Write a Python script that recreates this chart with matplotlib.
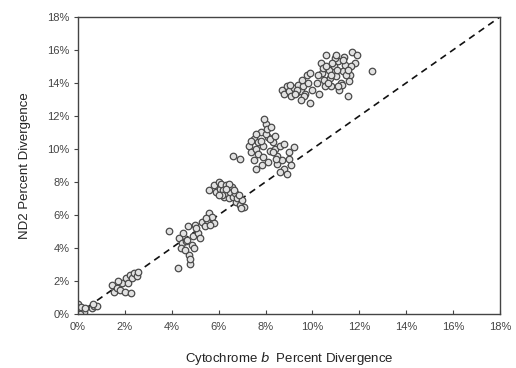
import numpy as np
import matplotlib
matplotlib.use('Agg')
import matplotlib.pyplot as plt
from matplotlib.ticker import FuncFormatter

plt.rcParams['font.family'] = ['Liberation Sans', 'DejaVu Sans']

# percent divergence, read off the picture cluster by cluster
# near the origin
cyt_a = [0.0, 0.05, 0.15, 0.25, 0.1, 0.3, 0.6, 0.7, 0.8, 0.65]
nd2_a = [0.6, 0.2, 0.4, 0.1, 0.0, 0.35, 0.35, 0.5, 0.45, 0.6]
# around 2%
cyt_b = [1.45, 1.55, 1.65, 1.8, 1.9, 2.0, 2.05, 2.15, 2.2, 2.3, 2.4, 2.5, 2.55, 1.7, 2.25]
nd2_b = [1.75, 1.3, 1.55, 1.45, 1.9, 1.35, 2.2, 1.85, 2.35, 2.15, 2.45, 2.3, 2.55, 2.0, 1.25]
# 4-6%
cyt_c = [3.9, 4.25, 4.8, 4.3, 4.45, 4.5, 4.6, 4.7, 4.75, 4.85, 4.9, 5.0, 5.1, 5.2,
         4.4, 4.55, 4.8, 4.95, 5.05, 4.65, 5.3, 5.4, 5.5, 5.6, 5.7, 5.8, 5.65, 5.45]
nd2_c = [5.0, 2.8, 3.0, 4.6, 4.3, 4.9, 4.4, 5.3, 3.6, 4.2, 4.7, 5.4, 4.9, 4.6,
         4.0, 3.9, 3.3, 4.0, 5.2, 4.5, 5.6, 5.3, 5.7, 6.1, 5.9, 5.5, 5.4, 5.8]
# 6-7%
cyt_d = [5.6, 5.8, 5.9, 6.0, 6.05, 6.1, 6.2, 6.25, 6.3, 6.35, 6.4, 6.45, 6.5, 6.55,
         6.6, 6.7, 6.75, 6.8, 6.9, 7.0, 7.1, 6.15, 6.45, 6.65, 6.85, 6.95, 6.0, 6.3]
nd2_d = [7.5, 7.8, 7.4, 8.0, 7.6, 7.9, 7.5, 7.1, 7.8, 7.3, 7.6, 7.0, 7.4, 7.7,
         7.1, 7.3, 6.8, 7.0, 6.6, 6.9, 6.5, 7.2, 7.9, 7.5, 7.2, 6.4, 7.2, 7.6]
# 7-9%
cyt_e = [6.6, 6.9, 7.3, 7.4, 7.5, 7.6, 7.7, 7.8, 7.9, 8.0, 8.1, 8.2, 8.3, 8.4, 8.5,
         7.5, 7.7, 7.9, 8.1, 8.3, 7.6, 7.8, 8.0, 8.2, 8.4, 8.6, 7.95, 8.05, 7.85, 8.5,
         8.7, 8.8, 9.0, 9.1, 8.6, 8.9, 7.6, 8.25, 8.45, 7.4, 9.0, 9.2, 8.8]
nd2_e = [9.6, 9.4, 10.2, 9.8, 10.6, 10.0, 10.4, 11.0, 10.2, 11.5, 10.7, 9.9, 10.4, 10.0, 9.6,
         9.3, 9.7, 9.5, 9.2, 9.8, 10.9, 10.5, 10.9, 10.6, 10.8, 10.2, 11.8, 11.2, 9.0, 9.1,
         9.3, 8.8, 9.4, 9.0, 8.6, 8.5, 8.8, 11.3, 9.4, 10.5, 9.8, 10.1, 10.3]
# 9-10%
cyt_f = [8.7, 8.8, 8.9, 9.0, 9.1, 9.2, 9.3, 9.4, 9.5, 9.6, 9.7, 9.8, 9.9, 10.0,
         9.05, 9.35, 9.55, 9.75, 9.25, 9.65, 9.9, 9.5]
nd2_f = [13.6, 13.3, 13.8, 13.5, 13.2, 13.7, 13.4, 13.9, 13.5, 13.8, 13.3, 14.0, 12.8, 13.6,
         13.9, 13.6, 14.2, 14.5, 13.3, 13.2, 14.6, 12.95]
# 10-12.5%
cyt_g = [10.2, 10.3, 10.4, 10.5, 10.6, 10.7, 10.8, 10.9, 11.0, 11.1, 11.2, 11.3, 11.4, 11.5,
         11.6, 11.7, 11.8, 11.9, 10.35, 10.55, 10.75, 10.95, 11.15, 11.35, 11.55, 10.45, 10.65,
         10.85, 11.05, 11.25, 11.45, 11.65, 10.6, 11.0, 11.3, 12.55, 10.25, 10.8, 11.1, 11.5]
nd2_g = [14.0, 13.3, 14.6, 14.2, 15.7, 14.8, 13.8, 15.0, 14.4, 15.3, 14.0, 14.7, 15.1, 13.2,
         14.5, 15.9, 15.2, 15.7, 15.2, 13.8, 14.3, 15.5, 13.6, 15.6, 14.1, 14.9, 14.0,
         15.2, 14.8, 13.9, 14.5, 15.0, 15.0, 15.7, 15.4, 14.7, 14.5, 14.5, 13.8, 14.8]

cyt = np.array(cyt_a + cyt_b + cyt_c + cyt_d + cyt_e + cyt_f + cyt_g)
nd2 = np.array(nd2_a + nd2_b + nd2_c + nd2_d + nd2_e + nd2_f + nd2_g)

ticks = list(range(0, 19, 2))

fig = plt.figure(figsize=(5.16, 3.68), dpi=100)
ax = fig.add_axes([0.151, 0.147, 0.818, 0.807])

# 1:1 line
ax.plot([0, 18], [0, 18], color='#111111', lw=1.2, dashes=(4, 3), zorder=1)
ax.scatter(cyt, nd2, s=22, facecolor='#e2e2e2', edgecolor='#4a4a4a', linewidth=0.9, zorder=2)

ax.set_xlim(0, 18)
ax.set_ylim(0, 18)
ax.set_xticks(ticks)
ax.set_yticks(ticks)
pct = FuncFormatter(lambda v, p: f"{v:.0f}%")
ax.xaxis.set_major_formatter(pct)
ax.yaxis.set_major_formatter(pct)
ax.tick_params(axis='x', direction='in', length=3, labelsize=8, colors='#444444', pad=6)
ax.tick_params(axis='y', direction='out', length=3, labelsize=8, colors='#444444', pad=3)
for s in ax.spines.values():
    s.set_color('#444444')
    s.set_linewidth(1.0)

ax.set_ylabel("ND2 Percent Divergence", fontsize=9.5, color='#222222', labelpad=12)
ax.set_xlabel(r"Cytochrome $\it{b}$  Percent Divergence", fontsize=9.5, color='#222222', labelpad=13)

fig.savefig('out.png', dpi=100)
